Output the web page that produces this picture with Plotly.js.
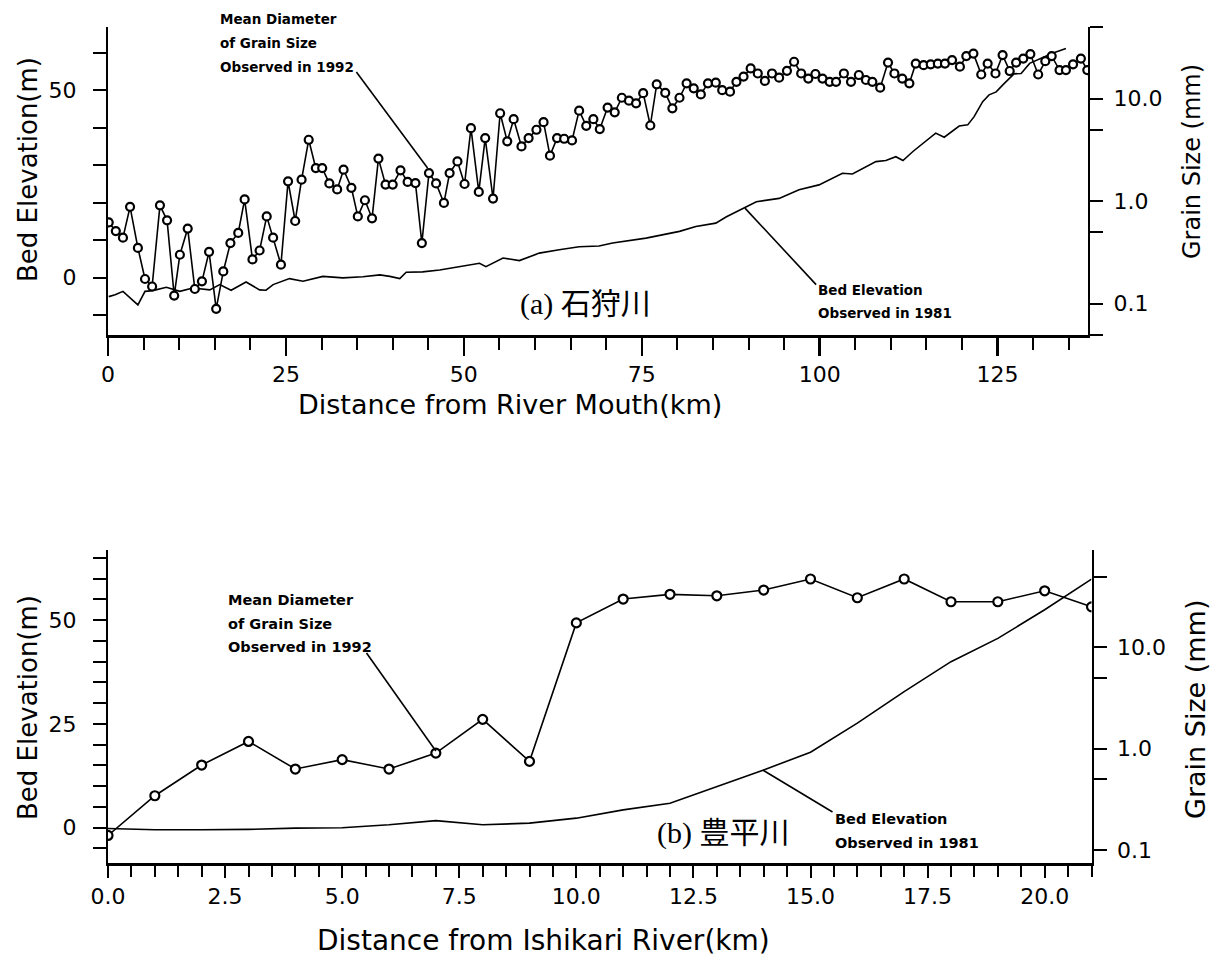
<!DOCTYPE html>
<html>
<head>
<meta charset="utf-8">
<script src="https://cdn.plot.ly/plotly-3.0.1.min.js"></script>
<style>
  html, body { margin: 0; padding: 0; background: #fff; }
  #chart { width: 1218px; height: 972px; }
</style>
</head>
<body>
<div id="chart"></div>
<script>
// (a) Ishikari River: mean grain diameter (1992), distance from river mouth in km
const ishikariGrainKm = [0.1, 1.1, 2.1, 3.1, 4.2, 5.2, 6.2, 7.3, 8.3, 9.3, 10.1, 11.2, 12.2, 13.2, 14.2, 15.2, 16.2, 17.2, 18.3, 19.2,
  20.3, 21.3, 22.3, 23.2, 24.3, 25.3, 26.3, 27.2, 28.2, 29.2, 30.1, 31.1, 32.2, 33.1, 34.2, 35.1, 36.1, 37.1, 38.0, 39.0,
  40.0, 41.1, 42.1, 43.2, 44.1, 45.1, 46.1, 47.2, 48.0, 49.1, 50.1, 51.0, 52.1, 53.0, 54.1, 55.1, 56.1, 57.0, 58.1, 59.1,
  60.2, 61.2, 62.1, 63.1, 64.1, 65.2, 66.2, 67.2, 68.2, 69.1, 70.2, 71.2, 72.2, 73.2, 74.2, 75.2, 76.2, 77.1, 78.3, 79.3,
  80.3, 81.3, 82.3, 83.3, 84.3, 85.4, 86.3, 87.4, 88.3, 89.3, 90.3, 91.3, 92.3, 93.3, 94.3, 95.4, 96.4, 97.4, 98.4, 99.4,
  100.4, 101.4, 102.3, 103.4, 104.4, 105.5, 106.5, 107.4, 108.5, 109.6, 110.5, 111.6, 112.6, 113.5, 114.6, 115.6, 116.6, 117.6, 118.6, 119.7,
  120.6, 121.6, 122.7, 123.6, 124.7, 125.7, 126.7, 127.6, 128.6, 129.6, 130.7, 131.7, 132.6, 133.7, 134.6, 135.6, 136.7, 137.6];
const ishikariGrainMm = [0.62, 0.51, 0.44, 0.88, 0.35, 0.174, 0.147, 0.91, 0.65, 0.12, 0.30, 0.54, 0.139, 0.165, 0.32, 0.089, 0.206, 0.39, 0.49, 1.04,
  0.27, 0.33, 0.71, 0.44, 0.24, 1.56, 0.64, 1.62, 3.97, 2.1, 2.1, 1.49, 1.30, 2.03, 1.35, 0.71, 1.02, 0.68, 2.6, 1.45,
  1.45, 2.0, 1.54, 1.5, 0.39, 1.88, 1.49, 0.96, 1.88, 2.44, 1.47, 5.15, 1.23, 4.12, 1.06, 7.2, 3.83, 6.3, 3.42, 4.12,
  4.97, 5.89, 2.78, 4.12, 4.06, 3.91, 7.64, 5.43, 6.3, 5.05, 8.18, 7.36, 10.2, 9.55, 9.0, 11.3, 5.47, 13.8, 11.4, 8.05,
  10.2, 14.1, 12.6, 11.0, 14.1, 14.3, 12.1, 11.7, 14.6, 16.4, 19.7, 17.6, 14.9, 17.6, 16.0, 18.7, 22.9, 17.6, 15.7, 17.4,
  15.7, 14.6, 14.6, 17.6, 14.6, 17.0, 15.2, 14.6, 12.8, 22.5, 17.6, 15.7, 14.1, 22.0, 21.2, 21.6, 22.0, 22.0, 23.8, 20.5,
  26.0, 27.5, 17.2, 22.0, 17.6, 26.6, 18.6, 22.5, 24.6, 27.2, 17.2, 23.2, 26.0, 19.0, 19.0, 21.6, 24.6, 19.0];

// (a) Ishikari River: bed elevation (1981)
const ishikariBedKm = [0.1, 1.0, 2.1, 4.2, 5.2, 6.3, 8.2, 10.1, 11.9, 14.3, 15.7, 17.3, 19.4, 21.3, 22.2, 23.2, 25.5, 27.4, 30.2, 33.0,
  35.8, 38.2, 39.6, 41.0, 41.9, 44.2, 46.6, 49.4, 52.2, 53.1, 55.5, 57.8, 60.6, 63.4, 66.2, 69.0, 70.9, 75.6, 80.3, 82.6,
  85.4, 86.9, 89.4, 91.1, 94.3, 97.1, 99.9, 103.2, 104.6, 107.9, 109.3, 110.7, 111.7, 113.1, 116.3, 117.5, 119.6, 120.8, 121.7, 122.9,
  123.8, 124.8, 125.7, 127.3, 128.3, 129.5, 132.7, 134.6];
const ishikariBedM = [-5.1, -4.6, -3.7, -7.3, -3.7, -3.5, -2.6, -3.7, -2.8, -3.3, -1.9, -3.4, -1.2, -3.3, -3.4, -1.9, -0.3, -1.0, 0.3, -0.1,
  0.2, 0.7, 0.3, -0.3, 1.4, 1.5, 2.0, 2.9, 3.8, 2.9, 5.2, 4.5, 6.5, 7.4, 8.2, 8.4, 9.2, 10.5, 12.3, 13.6,
  14.5, 16.2, 18.5, 20.2, 21.1, 23.4, 24.7, 27.8, 27.6, 30.9, 31.2, 32.2, 31.2, 33.6, 38.5, 37.4, 40.4, 40.7, 42.9, 46.9,
  48.7, 49.5, 51.3, 54.3, 54.4, 57.1, 59.8, 61.1];

// (b) Toyohira River: distance from the Ishikari River in km
const toyohiraKm = [0, 1, 2, 3, 4, 5, 6, 7, 8, 9, 10, 11, 12, 13, 14, 15, 16, 17, 18, 19, 20, 21];
const toyohiraGrainMm = [0.139, 0.343, 0.69, 1.18, 0.63, 0.78, 0.63, 0.905, 1.95, 0.75, 17.5, 30.1, 33.5, 32.4, 36.9, 47.5, 31.0, 47.5, 28.3, 28.3, 36.3, 25.2];
const toyohiraBedM = [-0.2, -0.5, -0.5, -0.4, -0.1, 0.0, 0.7, 1.7, 0.7, 1.1, 2.3, 4.3, 5.9, 9.9, 13.9, 18.2, 25.2, 32.8, 40.0, 45.6, 52.5, 59.9];

// Grain-size axis ticks
const grainTickVals = [0.05, 0.1, 0.5, 1, 5, 10, 50];
const grainTickText = ['', '0.1', '', '1.0', '', '10.0', ''];

const ink = '#000';
const sans = 'DejaVu Sans, sans-serif';
const serifCjk = 'Liberation Serif, Noto Sans CJK JP, serif';
const noteTop = { family: sans, size: 13.5, color: ink, weight: 'bold' };
const noteBottom = { family: sans, size: 14.5, color: ink, weight: 'bold' };

const lineStyle = { color: ink, width: 1.6 };
const markerTop = { symbol: 'circle', size: 8, color: '#fff', line: { color: ink, width: 2.2 } };
const markerBottom = { symbol: 'circle', size: 9, color: '#fff', line: { color: ink, width: 2.2 } };

const traces = [
  { x: ishikariBedKm, y: ishikariBedM, xaxis: 'x', yaxis: 'y', mode: 'lines', line: lineStyle },
  { x: ishikariGrainKm, y: ishikariGrainMm, xaxis: 'x', yaxis: 'y2', mode: 'lines+markers', line: lineStyle, marker: markerTop },
  { x: toyohiraKm, y: toyohiraBedM, xaxis: 'x2', yaxis: 'y3', mode: 'lines', line: lineStyle },
  { x: toyohiraKm, y: toyohiraGrainMm, xaxis: 'x2', yaxis: 'y4', mode: 'lines+markers', line: lineStyle, marker: markerBottom }
];

const W = 1218, H = 972;
const px = v => v / W;
const py = v => 1 - v / H;

const axisCommon = {
  showline: true, linecolor: ink, linewidth: 2, showgrid: false, zeroline: false,
  ticks: 'outside', tickcolor: ink, tickwidth: 2, automargin: false,
  tickfont: { family: sans, size: 22, color: ink }
};

// free-standing text placed in page pixels
function label(text, x, y, font, extra) {
  return Object.assign({ xref: 'paper', yref: 'paper', x: px(x), y: py(y), xanchor: 'left', yanchor: 'middle',
    align: 'left', showarrow: false, text: text, font: font }, extra || {});
}
function axisTitle(text, x, y, size, angle) {
  return label(text, x, y, { family: sans, size: size, color: ink }, { xanchor: 'center', textangle: angle || 0 });
}

const layout = {
  width: W, height: H,
  margin: { l: 0, r: 0, t: 0, b: 0 },
  paper_bgcolor: '#fff', plot_bgcolor: '#fff',
  showlegend: false,
  xaxis: Object.assign({}, axisCommon, {
    domain: [px(108), px(1088)], anchor: 'y', range: [0, 137.7],
    tick0: 0, dtick: 25, ticklen: 18, linewidth: 3, tickwidth: 2.5,
    minor: { dtick: 5, ticklen: 12, tickwidth: 2, tickcolor: ink, ticks: 'outside' }
  }),
  yaxis: Object.assign({}, axisCommon, {
    domain: [py(334.5), py(27)], anchor: 'x', range: [-15.2, 66.8],
    tick0: 0, dtick: 50, ticklen: 13, ticklabelstandoff: 12,
    minor: { dtick: 10, ticklen: 13, tickwidth: 2, tickcolor: ink, ticks: 'outside' }
  }),
  yaxis2: Object.assign({}, axisCommon, {
    overlaying: 'y', anchor: 'x', side: 'right', type: 'log',
    range: [Math.log10(0.05), Math.log10(50)],
    tickmode: 'array', tickvals: grainTickVals, ticktext: grainTickText, ticklen: 13, ticklabelstandoff: 6
  }),
  xaxis2: Object.assign({}, axisCommon, {
    domain: [px(108), px(1091.5)], anchor: 'y3', range: [0, 21],
    tick0: 0, dtick: 2.5, tickformat: '.1f', ticklen: 12, linewidth: 3,
    minor: { dtick: 0.5, ticklen: 11, tickwidth: 2, tickcolor: ink, ticks: 'outside' }
  }),
  yaxis3: Object.assign({}, axisCommon, {
    domain: [py(863), py(550)], anchor: 'x2', range: [-8.5, 66.9],
    tick0: 0, dtick: 25, ticklen: 13, ticklabelstandoff: 12,
    minor: { dtick: 5, ticklen: 13, tickwidth: 2, tickcolor: ink, ticks: 'outside' }
  }),
  yaxis4: Object.assign({}, axisCommon, {
    overlaying: 'y3', anchor: 'x2', side: 'right', type: 'log',
    range: [-1.129, 1.963],
    tickmode: 'array', tickvals: grainTickVals, ticktext: grainTickText, ticklen: 13, ticklabelstandoff: 6
  }),
  shapes: [
    // leader lines from the notes to the curves
    { type: 'line', xref: 'x', yref: 'y', x0: 34.9, y0: 54.8, x1: 44.9, y1: 29.2, line: { color: ink, width: 1.6 } },
    { type: 'line', xref: 'x', yref: 'y', x0: 89.5, y0: 18.5, x1: 99.5, y1: -1.9, line: { color: ink, width: 1.6 } },
    { type: 'line', xref: 'x2', yref: 'y3', x0: 5.52, y0: 42.1, x1: 7.0, y1: 18.5, line: { color: ink, width: 1.6 } },
    { type: 'line', xref: 'x2', yref: 'y3', x0: 13.98, y0: 13.9, x1: 15.47, y1: 3.8, line: { color: ink, width: 1.6 } }
  ],
  annotations: [
    // axis titles
    axisTitle('Distance from River Mouth(km)', 510, 404, 27),
    axisTitle('Bed Elevation(m)', 28, 170, 26, -90),
    axisTitle('Grain Size (mm)', 1192, 162, 24, -90),
    axisTitle('Distance from Ishikari River(km)', 543, 940, 28),
    axisTitle('Bed Elevation(m)', 28, 708, 26, -90),
    axisTitle('Grain Size (mm)', 1195, 710, 27, -90),

    // notes, panel (a)
    label('Mean Diameter', 218, 19, noteTop),
    label('of Grain Size', 218, 43, noteTop),
    label('Observed in 1992', 218, 67, noteTop),
    label('Bed Elevation', 816, 290, noteTop),
    label('Observed in 1981', 816, 313, noteTop),
    label('(a) 石狩川', 585, 304, { family: serifCjk, size: 30, color: ink }, { xanchor: 'center' }),

    // notes, panel (b)
    label('Mean Diameter', 226, 600, noteBottom),
    label('of Grain Size', 226, 624, noteBottom),
    label('Observed in 1992', 226, 647, noteBottom),
    label('Bed Elevation', 833, 819, noteBottom),
    label('Observed in 1981', 833, 843, noteBottom),
    label('(b) 豊平川', 723, 833, { family: serifCjk, size: 30, color: ink }, { xanchor: 'center' })
  ]
};

Plotly.newPlot('chart', traces, layout, { staticPlot: true, displayModeBar: false });
</script>
</body>
</html>
